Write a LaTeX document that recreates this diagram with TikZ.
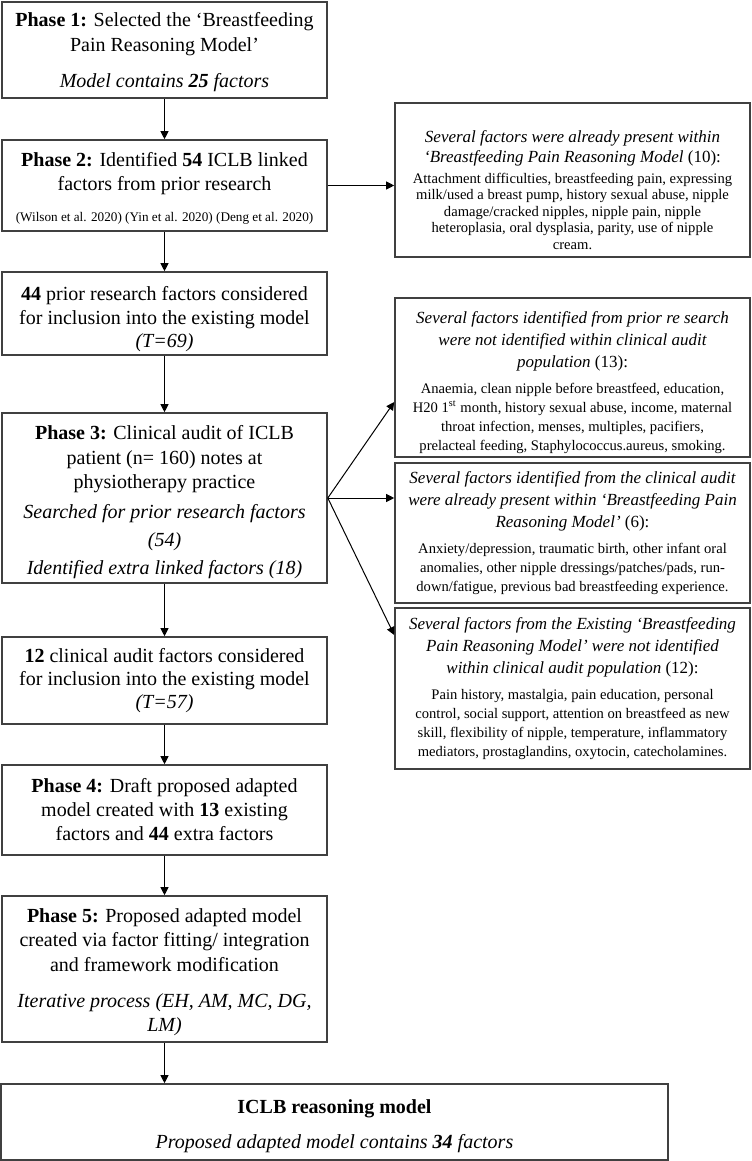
\documentclass[tikz,border=0pt]{standalone}
\usepackage{fontspec}
\setmainfont{Liberation Serif}
\usetikzlibrary{arrows.meta}

\newcommand\mainsize[1][12.25pt]{\fontsize{10pt}{#1}\selectfont}
\newcommand\citesize{\fontsize{6.6pt}{8pt}\selectfont}
\newcommand\headsize[1][11pt]{\fontsize{8.5pt}{#1}\selectfont}
\newcommand\bodysize[1][9.6pt]{\fontsize{7.3pt}{#1}\selectfont}
\newcommand\topgap[1]{\rule{0pt}{\dimexpr0.75em+#1\relax}}

\tikzset{
  stage/.style={draw=black!75, line width=0.8pt, minimum width=162.5pt, text width=158pt,
    inner sep=0pt, align=flush center, font=\mainsize},
  note/.style={draw=black!75, line width=0.8pt, minimum width=177.5pt, text width=173pt,
    inner sep=0pt, align=flush center},
  link/.style={-{Triangle[length=4pt,width=4pt]}, line width=0.5pt}
}

\begin{document}
\begin{tikzpicture}[x=0.5pt, y=-0.5pt]
\useasboundingbox (0,0) rectangle (751,1161);

% Etapas
\node[stage, minimum height=48pt] (p1) at (164.5,50)
  {\topgap{2pt}\textbf{Phase 1:} Selected the ‘Breastfeeding\\ Pain Reasoning Model’\par
   \vspace{6pt}\textit{Model contains \textbf{25} factors}};
\node[stage, minimum height=45.5pt] (p2) at (164.5,185.5)
  {\topgap{2.5pt}\textbf{Phase 2:} Identified \textbf{54} ICLB linked\\ factors from prior research\par
   \vspace{7.5pt}{\citesize (Wilson et al. 2020) (Yin et al. 2020) (Deng et al. 2020)\par}};
\node[stage, minimum height=41.5pt, font={\mainsize[11.7pt]}] (prior) at (164.5,313.5)
  {\topgap{5.5pt}\textbf{44} prior research factors considered\\ for inclusion into the existing model\\ \textit{(T=69)}};
\node[stage, minimum height=85pt] (p3) at (164.5,498)
  {\topgap{4pt}\textbf{Phase 3:} Clinical audit of ICLB\\ patient (n= 160) notes at\\ physiotherapy practice\par
   \vspace{1pt}{\mainsize[14pt]\itshape Searched for prior research factors\\ (54)\\ Identified extra linked factors (18)\par}};
\node[stage, minimum height=43.5pt, font={\mainsize[11.7pt]}] (audit) at (164.5,680.5)
  {\textbf{12} clinical audit factors considered\\ for inclusion into the existing model\\ \textit{(T=57)}};
\node[stage, minimum height=45pt, font={\mainsize[12pt]}] (p4) at (164.5,810)
  {\textbf{Phase 4:} Draft proposed adapted\\ model created with \textbf{13} existing\\ factors and \textbf{44} extra factors};
\node[stage, minimum height=73pt] (p5) at (164.5,969)
  {\topgap{2.5pt}\textbf{Phase 5:} Proposed adapted model\\ created via factor fitting/ integration\\ and framework modification\par
   \vspace{5.75pt}\textit{Iterative process (EH, AM, MC, DG,\\ LM)}};
\node[stage, minimum width=333.5pt, text width=328pt, minimum height=38pt] (iclb) at (334.5,1122)
  {\topgap{3.5pt}\textbf{ICLB reasoning model}\par
   \vspace{5.25pt}\textit{Proposed adapted model contains \textbf{34} factors}};

% Notas
\node[note, minimum height=77pt] (n1) at (572.5,180)
  {{\headsize[10pt]\topgap{9.5pt}\textit{Several factors were already present within\\ ‘Breastfeeding Pain Reasoning Model} (10):\par}
   \vspace{2.2pt}
   {\bodysize[8.3pt]Attachment difficulties, breastfeeding pain, expressing\\ milk/used a breast pump, history sexual abuse, nipple\\ damage/cracked nipples, nipple pain, nipple\\ heteroplasia, oral dysplasia, parity, use of nipple\\ cream.\par}};
\node[note, minimum height=79.5pt] (n2) at (572.5,377.5)
  {{\headsize\topgap{4.5pt}\textit{Several factors identified from prior re search\\ were not identified within clinical audit\\ population} (13):\par}
   \vspace{3.4pt}
   {\bodysize Anaemia, clean nipple before breastfeed, education,\\ H20 1\textsuperscript{st} month, history sexual abuse, income, maternal\\ throat infection, menses, multiples, pacifiers,\\ prelacteal feeding, Staphylococcus.aureus, smoking.\par}};
\node[note, minimum height=70pt] (n3) at (572.5,533)
  {{\headsize\textit{Several factors identified from the clinical audit\\ were already present within ‘Breastfeeding Pain\\ Reasoning Model’} (6):\par}
   \vspace{3.4pt}
   {\bodysize Anxiety/depression, traumatic birth, other infant oral\\ anomalies, other nipple dressings/patches/pads, run-\\down/fatigue, previous bad breastfeeding experience.\par}};
\node[note, minimum height=80.5pt] (n4) at (572.5,688.5)
  {{\headsize\textit{Several factors from the Existing ‘Breastfeeding\\ Pain Reasoning Model’ were not identified\\ within clinical audit population} (12):\par}
   \vspace{3.4pt}
   {\bodysize Pain history, mastalgia, pain education, personal\\ control, social support, attention on breastfeed as new\\ skill, flexibility of nipple, temperature, inflammatory\\ mediators, prostaglandins, oxytocin, catecholamines.\par}};

% Setas
\draw[link] (p1) -- (p2);
\draw[link] (p2) -- (prior);
\draw[link] (prior) -- (p3);
\draw[link] (p3) -- (audit);
\draw[link] (audit) -- (p4);
\draw[link] (p4) -- (p5);
\draw[link] (p5.south) -- (p5.south |- iclb.north);
\draw[link] (p2.east) -- (p2.east -| n1.west);
\draw[link] (p3.east) -- ([yshift=-12.25pt]n2.west);
\draw[link] (p3.east) -- (p3.east -| n3.west);
\draw[link] (p3.east) -- ([yshift=26.75pt]n4.west);

\end{tikzpicture}
\end{document}
